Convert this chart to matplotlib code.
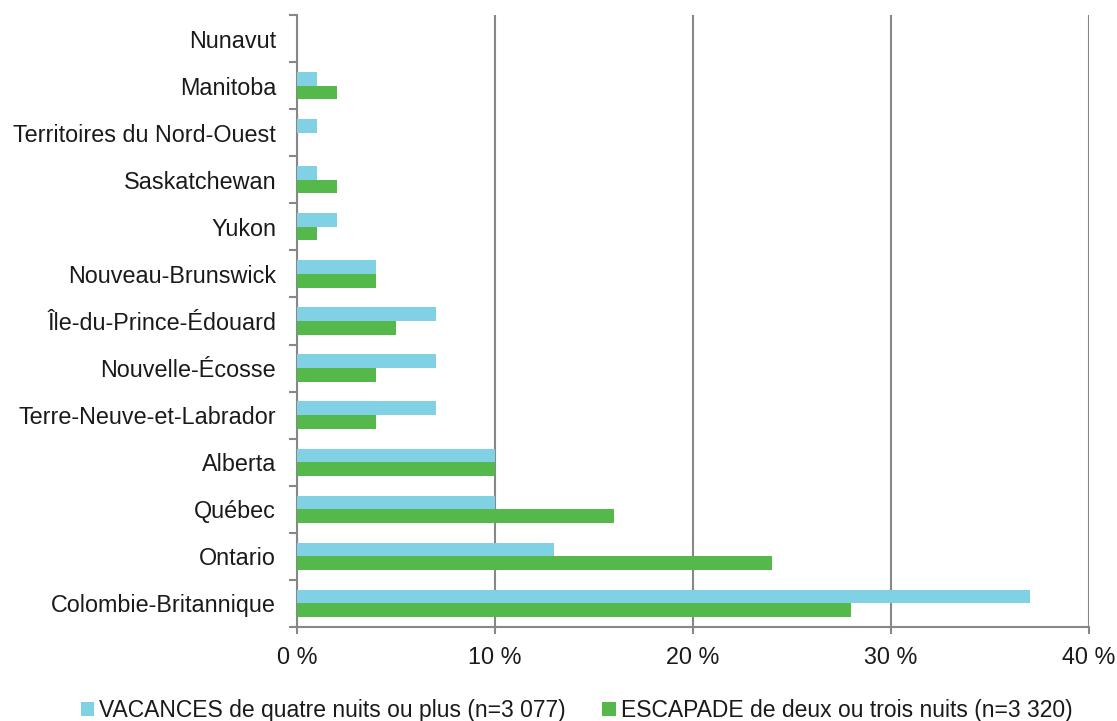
import matplotlib
matplotlib.use("Agg")
import matplotlib.pyplot as plt
import numpy as np

categories = ["Colombie-Britannique", "Ontario", "Québec", "Alberta",
              "Terre-Neuve-et-Labrador", "Nouvelle-Écosse", "Île-du-Prince-Édouard",
              "Nouveau-Brunswick", "Yukon", "Saskatchewan",
              "Territoires du Nord-Ouest", "Manitoba", "Nunavut"]
vacances = [37, 13, 10, 10, 7, 7, 7, 4, 2, 1, 1, 1, 0]
escapade = [28, 24, 16, 10, 4, 4, 5, 4, 1, 2, 0, 2, 0]
series_labels = ["VACANCES de quatre nuits ou plus (n=3 077)",
                 "ESCAPADE de deux ou trois nuits (n=3 320)"]
xticks = [0, 10, 20, 30, 40]

plt.rcParams['font.family'] = ['Liberation Sans', 'DejaVu Sans']
gray = "#878787"
c_vac = "#7FD1E3"
c_esc = "#55B84A"
tc = "#1a1a1a"
fs = 16.8

fig = plt.figure(figsize=(11.17, 7.21), dpi=100)
ax = fig.add_axes([0.2659, 0.1304, 0.7091, 0.8488])

y = np.arange(len(categories))
h = 0.29
ax.barh(y + h/2, vacances, height=h, color=c_vac, label=series_labels[0], zorder=3)
ax.barh(y - h/2, escapade, height=h, color=c_esc, label=series_labels[1], zorder=3)

ax.set_xlim(0, 40)
ax.set_ylim(-0.5, len(categories) - 0.5)
ax.set_xticks(xticks)
ax.set_xticklabels([f"{t} %" for t in xticks], fontsize=fs, color=tc)
ax.set_yticks(y)
ax.set_yticklabels(categories, fontsize=fs, color=tc)
ax.tick_params(axis='y', length=0, pad=15)
ax.set_yticks(np.arange(-0.5, len(categories), 1), minor=True)
ax.tick_params(axis='y', which='minor', length=6, width=1.5, color=gray)
ax.tick_params(axis='x', length=5, width=1.5, color=gray, pad=9)

ax.grid(axis='x', color=gray, linewidth=1.5, zorder=0)
for s in ['top', 'right']:
    ax.spines[s].set_visible(False)
for s in ['left', 'bottom']:
    ax.spines[s].set_color(gray)
    ax.spines[s].set_linewidth(1.5)

fig.legend(loc='lower center', bbox_to_anchor=(0.516, -0.03), ncol=2, frameon=False,
           fontsize=16.5, handlelength=0.6, handleheight=0.6, handletextpad=0.2,
           columnspacing=1.6, labelcolor=tc)

fig.savefig("out.png", dpi=100)
